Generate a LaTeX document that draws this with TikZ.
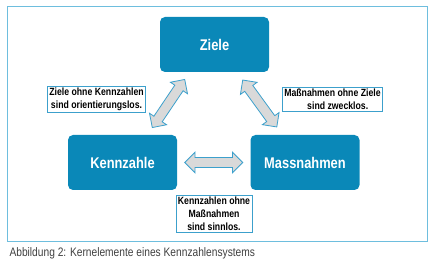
\documentclass[tikz,border=0pt]{standalone}
\usepackage{fontspec}
\usepackage{xcolor}
\usepackage{tikz}
\usetikzlibrary{positioning,calc,shapes.arrows}
\newfontfamily\narrowsans[FakeStretch=0.83]{Liberation Sans}
\definecolor{kzblue}{RGB}{10,136,184}
\definecolor{kzline}{RGB}{60,160,204}
\definecolor{kzframe}{RGB}{110,190,222}
\definecolor{kzgray}{RGB}{217,217,217}
\definecolor{captiongray}{RGB}{64,64,64}

\begin{document}
\begin{tikzpicture}[
      x=1pt, y=-1pt,
      font=\narrowsans,
      kbox/.style={fill=kzblue, rounded corners=5pt, minimum width=109pt, minimum height=55pt,
        text=white, font=\narrowsans\fontsize{15.5}{18}\selectfont\bfseries},
      note/.style={draw=kzline, line width=0.8pt, align=center, inner xsep=2pt, inner ysep=1.5pt,
        font=\narrowsans\fontsize{10.5}{13}\selectfont\bfseries},
      dbl/.style={double arrow, draw=kzline, fill=kzgray, line width=0.8pt, inner sep=4.6pt,
        minimum height=58pt, double arrow head extend=5.3pt, double arrow tip angle=90}]
    \useasboundingbox (0,0) rectangle (432,262);
    \draw[kzframe, line width=0.8pt] (7,6) rectangle (427,241);
    \node[kbox] (ziele) at (214.5,44.5) {Ziele};
    \node[kbox] (kz) at (122.5,162.5) {Kennzahle};
    \node[kbox] (mn) at (305,162.5) {Massnahmen};
    \node[note] (n1) at (96.5,99.5) {Ziele ohne Kennzahlen\\sind orientierungslos.};
    \node[note] (n2) at (332.5,99.5) {Maßnahmen ohne Ziele\\\quad sind zwecklos.};
    \node[note] (n3) at (214,214) {Kennzahlen ohne\\Maßnahmen\\sind sinnlos.};
    \node[dbl, rotate=56] (a1) at ($(kz)!0.5!(ziele)$) {};
    \node[dbl, rotate=-54] (a2) at ($(mn)!0.5!(ziele)$) {};
    \node[dbl] (a3) at ($(kz)!0.5!(mn)$) {};
    \node[anchor=west, text=captiongray, font=\narrowsans\fontsize{12.3}{14}\selectfont] (cap) at (6,253)
      {Abbildung 2: Kernelemente eines Kennzahlensystems};
  \end{tikzpicture}
\end{document}
